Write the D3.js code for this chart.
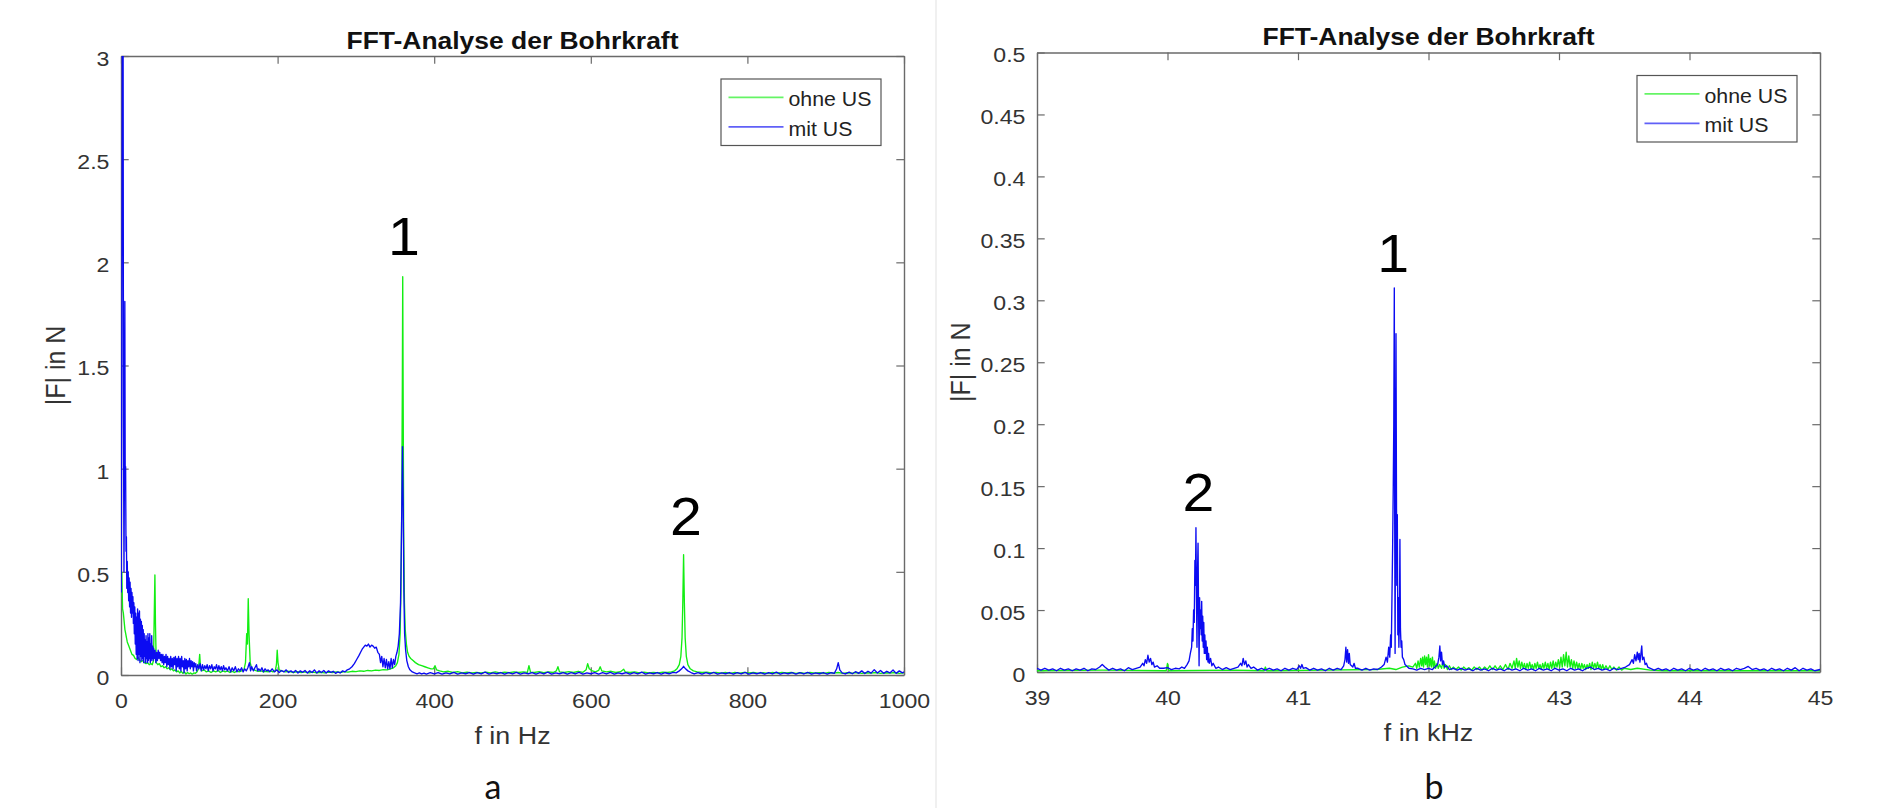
<!DOCTYPE html>
<html>
<head>
  <meta charset="utf-8">
  <title>FFT-Analyse der Bohrkraft</title>
  <script src="https://cdn.jsdelivr.net/npm/d3@7"></script>
  <style>
    body { margin: 0px; background: #fff; }
    svg { display: block; }
  </style>
</head>
<body>
<svg width="1879" height="808"></svg>
<script>
// ---- data ----
var seriesNames = ["ohne US", "mit US"];

// panel a : f in Hz, |F| in N
var xTicksA = [0, 200, 400, 600, 800, 1000];
var yTicksA = [0, 0.5, 1, 1.5, 2, 2.5, 3];

var ohneUS_a = [[1,0.5],[2,0.32],[3,0.3],[4,0.26],[5,0.22],[6,0.2],[7,0.18],[8,0.16],[10,0.14],[12,0.12],[14,0.1],[16,0.095],[18,0.08],[20,0.075],[22,0.085],[24,0.07],[26,0.065],[28,0.07],[30,0.06],[32,0.055],[34,0.06],[36,0.05],[38,0.055],[40,0.05],[41.5,0.07],[42.5,0.3],[43.3,0.485],[44,0.25],[45,0.06],[47,0.05],[49,0.055],[51,0.04],[53,0.045],[55,0.035],[57,0.04],[59,0.03],[61,0.035],[63,0.025],[65,0.03],[67,0.02],[69,0.025],[71,0.015],[73,0.02],[75,0.01],[77,0.018],[79,0.008],[81,0.015],[83,0.005],[85,0.012],[87,0.006],[89,0.01],[91,0.004],[93,0.01],[95,0.008],[97,0.015],[99,0.03],[100.5,0.1],[101.5,0.04],[103,0.02],[106,0.025],[109,0.015],[112,0.02],[115,0.012],[118,0.02],[121,0.015],[124,0.022],[127,0.012],[130,0.02],[133,0.015],[136,0.02],[139,0.012],[142,0.018],[145,0.012],[148,0.02],[151,0.015],[154,0.02],[157,0.025],[159,0.06],[160.5,0.2],[161.5,0.15],[162.5,0.37],[163.5,0.2],[165,0.06],[167,0.03],[170,0.025],[173,0.02],[176,0.018],[179,0.02],[182,0.015],[185,0.018],[188,0.015],[191,0.02],[194,0.015],[197,0.02],[198.5,0.05],[199.5,0.12],[200.5,0.06],[202,0.025],[205,0.02],[210,0.015],[215,0.018],[220,0.012],[225,0.016],[230,0.012],[235,0.015],[240,0.01],[245,0.014],[250,0.01],[255,0.013],[260,0.01],[265,0.014],[270,0.012],[275,0.015],[280,0.012],[285,0.016],[290,0.014],[295,0.018],[300,0.016],[305,0.02],[310,0.018],[315,0.022],[320,0.02],[325,0.024],[330,0.022],[335,0.026],[340,0.025],[344,0.03],[348,0.035],[351,0.045],[353,0.06],[355,0.1],[356.5,0.2],[357.5,0.4],[358.5,0.8],[359.3,1.4],[359.8,1.93],[360.4,1.3],[361,0.7],[362,0.35],[363,0.22],[364.5,0.15],[366,0.11],[368,0.09],[370,0.08],[373,0.07],[376,0.06],[380,0.05],[384,0.045],[388,0.04],[392,0.035],[396,0.03],[399,0.03],[401,0.045],[403,0.025],[407,0.02],[412,0.015],[418,0.018],[424,0.012],[430,0.016],[436,0.01],[442,0.014],[448,0.01],[454,0.013],[460,0.01],[466,0.014],[472,0.01],[478,0.015],[484,0.01],[490,0.014],[496,0.011],[502,0.015],[508,0.012],[514,0.015],[519,0.013],[521,0.045],[523,0.014],[528,0.012],[534,0.016],[540,0.011],[546,0.015],[552,0.012],[556,0.02],[558,0.04],[560,0.015],[566,0.012],[572,0.016],[578,0.012],[584,0.018],[590,0.013],[594,0.025],[596,0.055],[598,0.03],[602,0.02],[606,0.015],[610,0.022],[612,0.04],[614,0.02],[620,0.015],[626,0.018],[632,0.012],[638,0.016],[642,0.028],[644,0.015],[650,0.012],[656,0.015],[662,0.01],[668,0.014],[674,0.01],[680,0.013],[686,0.01],[692,0.014],[698,0.012],[703,0.015],[707,0.02],[710,0.03],[713,0.05],[715,0.09],[716.5,0.18],[717.5,0.35],[718.5,0.583],[719.5,0.35],[720.5,0.18],[722,0.09],[724,0.05],[727,0.03],[731,0.02],[736,0.015],[742,0.012],[748,0.014],[754,0.01],[760,0.013],[766,0.009],[772,0.012],[778,0.008],[784,0.012],[790,0.009],[796,0.013],[802,0.01],[808,0.012],[814,0.008],[820,0.011],[826,0.008],[832,0.012],[838,0.009],[844,0.013],[850,0.01],[856,0.012],[862,0.008],[868,0.011],[874,0.008],[880,0.012],[886,0.009],[892,0.011],[898,0.008],[904,0.012],[910,0.009],[916,0.012],[922,0.008],[928,0.011],[934,0.009],[940,0.012],[946,0.008],[952,0.011],[958,0.009],[964,0.012],[970,0.008],[976,0.011],[982,0.009],[988,0.012],[994,0.008],[1000,0.01]];

var mitUS_a = [[0.3,0.4],[1,1.5],[1.8,3.4],[2.6,3.4],[3.2,1.2],[3.8,0.5],[4.4,1.0],[4.9,1.81],[5.4,0.9],[5.9,1.01],[6.4,0.6],[6.9,0.67],[7.4,0.42],[8,0.55],[8.6,0.4],[9.2,0.5],[9.8,0.36],[10.4,0.47],[11,0.33],[11.6,0.45],[12.2,0.3],[12.8,0.42],[13.4,0.28],[14,0.4],[14.6,0.3],[15.2,0.38],[15.8,0.25],[16.4,0.35],[17,0.2],[17.6,0.33],[18.2,0.15],[18.8,0.3],[19.4,0.1],[20,0.28],[20.6,0.08],[21.2,0.32],[21.8,0.07],[22.4,0.3],[23,0.1],[23.6,0.31],[24.2,0.06],[24.8,0.27],[25.4,0.09],[26,0.26],[26.6,0.07],[27.2,0.24],[27.8,0.08],[28.4,0.22],[29,0.06],[29.6,0.2],[30.2,0.09],[30.8,0.17],[31.4,0.06],[32,0.19],[32.6,0.08],[33.2,0.16],[33.8,0.06],[34.4,0.2],[35,0.07],[35.6,0.18],[36.2,0.08],[36.8,0.2],[37.4,0.06],[38,0.15],[38.6,0.07],[39.2,0.19],[39.8,0.08],[40.4,0.14],[41,0.07],[41.6,0.13],[42.5,0.08],[43.5,0.12],[44.5,0.06],[45.5,0.11],[46.5,0.07],[47.5,0.12],[48.5,0.08],[49.5,0.11],[50.5,0.07],[51.5,0.1],[52.5,0.06],[53.5,0.1],[54.5,0.05],[55.5,0.09],[56.5,0.06],[57.5,0.1],[58.5,0.04],[59.5,0.09],[60.5,0.05],[61.5,0.08],[62.5,0.03],[63.5,0.09],[64.5,0.04],[65.5,0.08],[66.5,0.03],[67.5,0.085],[68.5,0.05],[69.5,0.09],[70.5,0.02],[71.5,0.08],[72.5,0.04],[73.5,0.09],[74.5,0.03],[75.5,0.08],[76.5,0.02],[77.5,0.09],[78.5,0.04],[79.5,0.07],[80.5,0.01],[81.5,0.08],[82.5,0.03],[83.5,0.075],[84.5,0.02],[85.5,0.07],[86.5,0.04],[87.5,0.08],[88.5,0.03],[89.5,0.07],[90.5,0.04],[91.5,0.065],[92.5,0.02],[93.5,0.06],[94.5,0.04],[95.5,0.055],[96.5,0.02],[98,0.05],[99.5,0.03],[101,0.055],[102.5,0.02],[104,0.05],[105.5,0.025],[107,0.045],[108.5,0.03],[110,0.05],[111.5,0.02],[113,0.045],[114.5,0.03],[116,0.05],[117.5,0.02],[119,0.04],[120.5,0.03],[122,0.05],[123.5,0.02],[125,0.045],[126.5,0.025],[128,0.04],[129.5,0.02],[131,0.045],[132.5,0.025],[134,0.035],[136,0.02],[138,0.04],[140,0.015],[142,0.035],[144,0.02],[146,0.04],[148,0.015],[150,0.03],[152,0.02],[154,0.035],[156,0.015],[158,0.03],[160,0.02],[162,0.035],[164,0.06],[165.5,0.02],[167,0.04],[169,0.02],[171,0.035],[173,0.05],[174.5,0.02],[176,0.03],[178,0.02],[180,0.035],[182,0.015],[184,0.03],[186,0.02],[188,0.025],[190,0.015],[193,0.03],[196,0.015],[199,0.025],[202,0.012],[205,0.022],[208,0.015],[211,0.025],[214,0.012],[217,0.02],[220,0.012],[223,0.022],[226,0.01],[229,0.02],[232,0.013],[235,0.022],[238,0.01],[241,0.02],[244,0.012],[247,0.025],[250,0.01],[253,0.02],[256,0.012],[259,0.022],[262,0.01],[265,0.02],[268,0.013],[271,0.018],[274,0.008],[277,0.015],[280,0.01],[283,0.02],[286,0.015],[289,0.025],[292,0.03],[295,0.04],[298,0.055],[301,0.075],[304,0.095],[306,0.11],[308,0.125],[310,0.135],[312,0.145],[314,0.14],[316,0.15],[318,0.135],[320,0.145],[322,0.14],[324,0.13],[326,0.135],[328,0.11],[330,0.1],[331.5,0.06],[333,0.09],[334.5,0.04],[336,0.08],[337.5,0.035],[339,0.075],[340.5,0.03],[342,0.065],[343.5,0.03],[345,0.08],[346.5,0.035],[348,0.075],[349.5,0.05],[351,0.09],[352.5,0.11],[354,0.14],[355.5,0.2],[357,0.35],[358.3,0.7],[359.5,1.107],[360.5,0.8],[361.3,0.4],[362.2,0.2],[363.5,0.12],[365,0.07],[367,0.04],[369,0.025],[372,0.015],[375,0.01],[378,0.006],[381,0.01],[384,0.005],[387,0.009],[390,0.004],[395,0.011],[400,0.005],[405,0.012],[410,0.004],[415,0.01],[420,0.005],[425,0.013],[430,0.004],[435,0.01],[440,0.006],[445,0.012],[450,0.004],[455,0.011],[460,0.005],[465,0.014],[470,0.004],[475,0.01],[480,0.006],[485,0.012],[490,0.004],[495,0.011],[500,0.005],[505,0.013],[510,0.004],[515,0.01],[520,0.006],[525,0.012],[530,0.004],[535,0.011],[540,0.005],[545,0.014],[550,0.004],[555,0.01],[560,0.006],[565,0.012],[570,0.004],[575,0.011],[580,0.005],[585,0.013],[590,0.004],[595,0.01],[600,0.006],[605,0.012],[610,0.004],[615,0.011],[620,0.005],[625,0.013],[630,0.004],[635,0.01],[640,0.006],[645,0.012],[650,0.004],[655,0.011],[660,0.005],[665,0.014],[670,0.004],[675,0.01],[680,0.006],[685,0.012],[690,0.004],[695,0.011],[700,0.006],[705,0.013],[709,0.01],[713,0.02],[716,0.03],[718.5,0.042],[721,0.03],[724,0.02],[728,0.012],[732,0.005],[737,0.012],[742,0.004],[747,0.011],[752,0.005],[757,0.013],[762,0.004],[767,0.01],[772,0.006],[777,0.012],[782,0.004],[787,0.011],[792,0.005],[797,0.013],[802,0.004],[807,0.01],[812,0.006],[817,0.012],[822,0.004],[827,0.011],[832,0.005],[837,0.014],[842,0.004],[847,0.01],[852,0.006],[857,0.012],[862,0.004],[867,0.011],[872,0.005],[877,0.013],[882,0.004],[887,0.01],[892,0.006],[897,0.012],[902,0.004],[907,0.011],[911,0.008],[914,0.03],[916,0.06],[918,0.025],[921,0.01],[925,0.005],[930,0.014],[934,0.006],[938,0.016],[942,0.008],[946,0.02],[950,0.007],[954,0.018],[958,0.009],[962,0.026],[966,0.01],[970,0.022],[974,0.008],[978,0.018],[982,0.01],[986,0.024],[990,0.008],[994,0.02],[998,0.01],[1000,0.015]];

// peak markers in panel a: [label, f, |F| of the label baseline]
var notesA = [["1", 361.4, 2.035], ["2", 721.6, 0.679]];

// panel b : f in kHz, |F| in N
var xTicksB = [39, 40, 41, 42, 43, 44, 45];
var yTicksB = [0, 0.05, 0.1, 0.15, 0.2, 0.25, 0.3, 0.35, 0.4, 0.45, 0.5];

var ohneUS_b = [[39,0.001],[39.5,0.0015],[39.99,0.001],[40,0.007],[40.01,0.001],[40.5,0.0015],[40.74,0.001],[40.75,0.004],[40.76,0.001],[41.2,0.0015],[41.6,0.002],[41.7,0.003],[41.75,0.002],[41.8,0.004],[41.85,0.005],[41.88,0.004],[41.9,0.007],[41.91,0.003],[41.92,0.009],[41.93,0.004],[41.94,0.011],[41.948,0.005],[41.955,0.012],[41.962,0.004],[41.97,0.013],[41.978,0.006],[41.985,0.012],[41.992,0.004],[42,0.014],[42.008,0.005],[42.015,0.011],[42.022,0.004],[42.03,0.012],[42.038,0.003],[42.045,0.009],[42.055,0.003],[42.065,0.007],[42.075,0.003],[42.085,0.006],[42.1,0.003],[42.11,0.008],[42.12,0.003],[42.13,0.006],[42.145,0.002],[42.16,0.005],[42.175,0.002],[42.19,0.004],[42.21,0.002],[42.23,0.004],[42.25,0.0015],[42.27,0.004],[42.29,0.002],[42.31,0.0035],[42.33,0.0015],[42.35,0.004],[42.37,0.002],[42.39,0.004],[42.41,0.0015],[42.43,0.004],[42.45,0.002],[42.47,0.005],[42.49,0.002],[42.51,0.005],[42.53,0.002],[42.55,0.005],[42.57,0.002],[42.59,0.006],[42.61,0.002],[42.625,0.007],[42.64,0.003],[42.655,0.009],[42.665,0.003],[42.675,0.011],[42.685,0.004],[42.695,0.009],[42.705,0.003],[42.715,0.008],[42.725,0.003],[42.735,0.007],[42.745,0.002],[42.755,0.007],[42.765,0.003],[42.775,0.008],[42.785,0.003],[42.795,0.006],[42.805,0.002],[42.815,0.007],[42.825,0.003],[42.835,0.008],[42.845,0.003],[42.855,0.006],[42.865,0.002],[42.875,0.007],[42.885,0.003],[42.895,0.008],[42.905,0.003],[42.915,0.007],[42.925,0.002],[42.935,0.008],[42.945,0.003],[42.955,0.009],[42.965,0.003],[42.975,0.008],[42.985,0.004],[42.995,0.01],[43.005,0.004],[43.015,0.012],[43.025,0.004],[43.035,0.014],[43.045,0.005],[43.055,0.016],[43.065,0.004],[43.075,0.013],[43.085,0.004],[43.095,0.01],[43.105,0.003],[43.115,0.009],[43.125,0.003],[43.135,0.008],[43.145,0.003],[43.155,0.007],[43.165,0.002],[43.175,0.007],[43.185,0.003],[43.195,0.006],[43.205,0.002],[43.215,0.006],[43.225,0.003],[43.235,0.007],[43.245,0.002],[43.255,0.008],[43.265,0.003],[43.275,0.007],[43.285,0.003],[43.295,0.008],[43.305,0.003],[43.315,0.006],[43.325,0.002],[43.335,0.006],[43.345,0.002],[43.36,0.005],[43.375,0.002],[43.39,0.005],[43.405,0.002],[43.42,0.004],[43.44,0.0015],[43.46,0.004],[43.48,0.0015],[43.5,0.003],[43.55,0.002],[43.6,0.003],[43.7,0.0015],[43.8,0.001],[44,0.001],[44.5,0.001],[45,0.001]];

var mitUS_b = [[39,0.003],[39.03,0.0015],[39.06,0.003],[39.09,0.0015],[39.12,0.0025],[39.15,0.001],[39.18,0.003],[39.21,0.0015],[39.24,0.0025],[39.27,0.001],[39.3,0.0025],[39.33,0.0015],[39.36,0.003],[39.39,0.001],[39.42,0.0025],[39.45,0.002],[39.48,0.004],[39.5,0.006],[39.52,0.004],[39.55,0.0015],[39.58,0.003],[39.61,0.0015],[39.64,0.0025],[39.67,0.001],[39.7,0.0035],[39.73,0.002],[39.76,0.003],[39.79,0.004],[39.81,0.007],[39.82,0.005],[39.83,0.01],[39.84,0.007],[39.85,0.0135],[39.86,0.008],[39.87,0.011],[39.88,0.006],[39.89,0.008],[39.9,0.004],[39.92,0.005],[39.94,0.003],[39.97,0.003],[40,0.0035],[40.03,0.002],[40.06,0.003],[40.09,0.0025],[40.11,0.004],[40.13,0.003],[40.15,0.006],[40.165,0.009],[40.175,0.015],[40.185,0.02],[40.19,0.035],[40.195,0.025],[40.2,0.05],[40.205,0.04],[40.21,0.09],[40.214,0.07],[40.218,0.1165],[40.222,0.06],[40.226,0.02],[40.23,0.08],[40.234,0.104],[40.238,0.05],[40.242,0.005],[40.246,0.06],[40.25,0.035],[40.254,0.05],[40.258,0.03],[40.262,0.057],[40.266,0.025],[40.27,0.045],[40.274,0.02],[40.278,0.04],[40.282,0.015],[40.286,0.03],[40.29,0.015],[40.295,0.025],[40.3,0.01],[40.305,0.02],[40.31,0.008],[40.315,0.015],[40.32,0.007],[40.33,0.011],[40.34,0.005],[40.35,0.007],[40.37,0.003],[40.39,0.004],[40.42,0.002],[40.45,0.0035],[40.48,0.002],[40.51,0.003],[40.54,0.004],[40.56,0.007],[40.57,0.005],[40.58,0.011],[40.59,0.006],[40.6,0.009],[40.61,0.004],[40.62,0.006],[40.64,0.003],[40.66,0.004],[40.69,0.0015],[40.72,0.003],[40.75,0.0015],[40.78,0.003],[40.81,0.0015],[40.84,0.0025],[40.87,0.001],[40.9,0.003],[40.93,0.0015],[40.96,0.003],[40.99,0.002],[41.01,0.005],[41.02,0.003],[41.03,0.006],[41.04,0.003],[41.06,0.0035],[41.09,0.0015],[41.12,0.003],[41.15,0.0015],[41.18,0.0025],[41.21,0.001],[41.24,0.003],[41.27,0.0015],[41.3,0.003],[41.33,0.002],[41.35,0.005],[41.36,0.01],[41.367,0.02],[41.373,0.008],[41.38,0.018],[41.387,0.007],[41.393,0.015],[41.4,0.006],[41.41,0.005],[41.42,0.004],[41.43,0.007],[41.44,0.003],[41.46,0.003],[41.49,0.0015],[41.52,0.003],[41.55,0.0015],[41.58,0.0025],[41.61,0.002],[41.64,0.004],[41.66,0.006],[41.675,0.012],[41.685,0.008],[41.695,0.02],[41.703,0.012],[41.71,0.03],[41.715,0.02],[41.72,0.06],[41.725,0.1],[41.73,0.15],[41.734,0.2],[41.738,0.31],[41.741,0.12],[41.744,0.015],[41.747,0.13],[41.751,0.273],[41.754,0.16],[41.757,0.07],[41.761,0.127],[41.765,0.03],[41.769,0.06],[41.773,0.02],[41.777,0.04],[41.781,0.107],[41.785,0.035],[41.79,0.02],[41.795,0.025],[41.8,0.012],[41.81,0.01],[41.82,0.006],[41.83,0.005],[41.85,0.003],[41.88,0.0025],[41.91,0.0015],[41.94,0.003],[41.97,0.002],[42,0.003],[42.03,0.002],[42.05,0.004],[42.07,0.006],[42.08,0.012],[42.087,0.021],[42.093,0.009],[42.1,0.016],[42.107,0.006],[42.115,0.009],[42.125,0.004],[42.14,0.005],[42.16,0.002],[42.19,0.003],[42.22,0.0015],[42.25,0.003],[42.28,0.0015],[42.31,0.0025],[42.34,0.001],[42.37,0.003],[42.4,0.0015],[42.43,0.0025],[42.46,0.001],[42.49,0.003],[42.52,0.0015],[42.55,0.0025],[42.58,0.001],[42.61,0.003],[42.64,0.0015],[42.67,0.0025],[42.7,0.001],[42.73,0.003],[42.76,0.0015],[42.79,0.0025],[42.82,0.001],[42.85,0.003],[42.88,0.0015],[42.91,0.0025],[42.94,0.001],[42.97,0.003],[43,0.0015],[43.03,0.0025],[43.06,0.001],[43.09,0.003],[43.12,0.0015],[43.15,0.0025],[43.18,0.001],[43.21,0.003],[43.24,0.004],[43.27,0.002],[43.3,0.003],[43.33,0.0015],[43.36,0.0025],[43.39,0.001],[43.42,0.003],[43.45,0.002],[43.48,0.003],[43.51,0.004],[43.54,0.006],[43.56,0.01],[43.57,0.007],[43.58,0.014],[43.59,0.009],[43.6,0.016],[43.607,0.01],[43.614,0.015],[43.62,0.008],[43.627,0.014],[43.634,0.021],[43.64,0.01],[43.65,0.012],[43.66,0.006],[43.67,0.007],[43.68,0.004],[43.7,0.003],[43.73,0.0015],[43.76,0.003],[43.79,0.0015],[43.82,0.0025],[43.85,0.001],[43.88,0.003],[43.91,0.0015],[43.94,0.0025],[43.97,0.001],[44,0.003],[44.03,0.0015],[44.06,0.0025],[44.09,0.001],[44.12,0.003],[44.15,0.0015],[44.18,0.0025],[44.21,0.001],[44.24,0.003],[44.27,0.0015],[44.3,0.0025],[44.33,0.001],[44.36,0.003],[44.39,0.002],[44.42,0.003],[44.45,0.0045],[44.48,0.002],[44.51,0.003],[44.54,0.0015],[44.57,0.0025],[44.6,0.001],[44.63,0.003],[44.66,0.0015],[44.69,0.0025],[44.72,0.001],[44.75,0.003],[44.78,0.0015],[44.81,0.0035],[44.84,0.001],[44.87,0.003],[44.9,0.0015],[44.93,0.0025],[44.96,0.001],[45,0.002]];

var notesB = [["1", 41.73, 0.323], ["2", 40.236, 0.130]];

// ---- drawing ----
var svg = d3.select("svg");
var FONT = "'Liberation Sans', Arial, Helvetica, sans-serif";
var GREEN = "#12ee12", BLUE = "#0b0bf2";
var AXIS = "#6a6a6a", TXT = "#333";

svg.append("rect").attr("width", 1879).attr("height", 808).attr("fill", "#fff");
// faint edge of the left picture
svg.append("line").attr("x1", 936).attr("x2", 936).attr("y1", 0).attr("y2", 808)
  .attr("stroke", "#f0f0f0").attr("stroke-width", 2);

// text with the slight horizontal stretch of the original figure
function label(g, txt, x, y, size, opts) {
  opts = opts || {};
  var sx = opts.sx || 1.12;
  var t = g.append("text")
    .attr("transform", `translate(${x},${y}) scale(${sx},1)` + (opts.rotate ? " rotate(-90)" : ""))
    .attr("text-anchor", opts.anchor || "middle")
    .attr("font-family", opts.family || FONT)
    .attr("font-size", size)
    .attr("font-weight", opts.bold ? "bold" : "normal")
    .attr("fill", opts.fill || TXT)
    .text(txt);
  return t;
}

function drawPanel(p) {
  var x = d3.scaleLinear().domain(p.xDomain).range([p.left, p.right]);
  var y = d3.scaleLinear().domain(p.yDomain).range([p.bottom, p.top]);
  var g = svg.append("g");

  var fmt = d3.format("~g");
  var styleAxis = function(a) {
    a.select(".domain").attr("stroke", AXIS).attr("stroke-width", 1.4);
    a.selectAll(".tick line").attr("stroke", AXIS).attr("stroke-width", 1.2);
    a.attr("font-family", FONT).attr("font-size", 21);
    a.selectAll(".tick text").attr("fill", TXT);
  };

  var bottom = g.append("g").attr("transform", `translate(0,${p.bottom})`)
    .call(d3.axisBottom(x).tickValues(p.xTicks).tickFormat(fmt)
      .tickSizeInner(-7.7).tickSizeOuter(0).tickPadding(18.5));
  styleAxis(bottom);
  bottom.selectAll(".tick text").attr("transform", "scale(1.1,1)");

  var top = g.append("g").attr("transform", `translate(0,${p.top})`)
    .call(d3.axisTop(x).tickValues(p.xTicks).tickFormat("")
      .tickSizeInner(-7.7).tickSizeOuter(0));
  styleAxis(top);

  var left = g.append("g").attr("transform", `translate(${p.left},0)`)
    .call(d3.axisLeft(y).tickValues(p.yTicks).tickFormat(fmt)
      .tickSizeInner(-7.7).tickSizeOuter(0).tickPadding(10.5));
  styleAxis(left);
  left.selectAll(".tick text").attr("dy", "0.45em").attr("transform", "scale(1.1,1)");

  var right = g.append("g").attr("transform", `translate(${p.right},0)`)
    .call(d3.axisRight(y).tickValues(p.yTicks).tickFormat("")
      .tickSizeInner(-7.7).tickSizeOuter(0));
  styleAxis(right);

  // spectra, clipped to the axes box
  g.append("clipPath").attr("id", "clip" + p.id).append("rect")
    .attr("x", p.left).attr("y", p.top)
    .attr("width", p.right - p.left).attr("height", p.bottom - p.top);
  var line = d3.line().x(function(d){ return x(d[0]); }).y(function(d){ return y(d[1]); });
  [[p.green, GREEN], [p.blue, BLUE]].forEach(function(s) {
    g.append("path").datum(s[0])
      .attr("clip-path", `url(#clip${p.id})`)
      .attr("d", line)
      .attr("fill", "none")
      .attr("stroke", s[1])
      .attr("stroke-width", 1.35)
      .attr("stroke-linejoin", "round");
  });

  // titles and labels
  var cx = (p.left + p.right) / 2, cy = (p.top + p.bottom) / 2;
  label(g, "FFT-Analyse der Bohrkraft", cx, p.top - 7.5, 23, {bold: true, sx: 1.15, fill: "#111"});
  label(g, p.xLabel, cx, p.bottom + 68.5, 24);
  label(g, "|F| in N", p.yLabelX, cy, 25, {rotate: true});

  // legend
  var lx = p.right - 183, ly = p.top + 23;
  g.append("rect").attr("x", lx).attr("y", ly).attr("width", 160).attr("height", 66.5)
    .attr("fill", "#fff").attr("stroke", "#555").attr("stroke-width", 1.2);
  [[GREEN, 18.3, 27], [BLUE, 47.8, 56.5]].forEach(function(r, i) {
    g.append("line").attr("x1", lx + 7.5).attr("x2", lx + 62.5)
      .attr("y1", ly + r[1]).attr("y2", ly + r[1])
      .attr("stroke", r[0]).attr("stroke-opacity", 0.65).attr("stroke-width", 1.8);
    label(g, seriesNames[i], lx + 67.5, ly + r[2], 20.5, {anchor: "start", sx: 1.04, fill: "#222"});
  });

  // peak numbers
  p.notes.forEach(function(n) {
    label(g, n[0], x(n[1]), y(n[2]), 53, {sx: 1.08, fill: "#000"});
  });

  // sub-figure letter
  label(svg, p.letter, p.letterX, 799, 34, {sx: 1, family: "Lato, 'Noto Sans', sans-serif", fill: "#111"});
}

drawPanel({
  id: "a", left: 121, right: 904, top: 56, bottom: 675,
  xDomain: [0, 1000], yDomain: [0, 3], xTicks: xTicksA, yTicks: yTicksA,
  xLabel: "f in Hz", yLabelX: 64.5,
  green: ohneUS_a, blue: mitUS_a, notes: notesA, letter: "a", letterX: 493
});

drawPanel({
  id: "b", left: 1037, right: 1820, top: 52.5, bottom: 672,
  xDomain: [39, 45], yDomain: [0, 0.5], xTicks: xTicksB, yTicks: yTicksB,
  xLabel: "f in kHz", yLabelX: 970,
  green: ohneUS_b, blue: mitUS_b, notes: notesB, letter: "b", letterX: 1434
});
</script>
</body>
</html>
